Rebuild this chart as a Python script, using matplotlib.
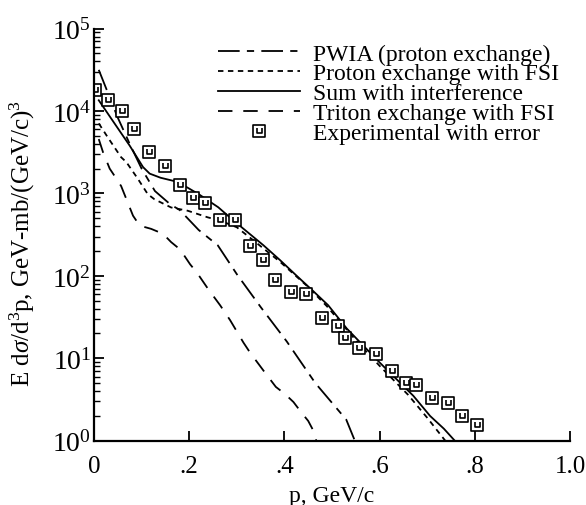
import numpy as np
import matplotlib
matplotlib.use('Agg')
import matplotlib.pyplot as plt
from matplotlib.path import Path

plt.rcParams['font.family'] = ['Liberation Serif', 'DejaVu Serif']
plt.rcParams['mathtext.fontset'] = 'custom'
plt.rcParams['mathtext.rm'] = 'Liberation Serif'
plt.rcParams['mathtext.it'] = 'Liberation Serif:italic'

# curves (p in GeV/c, cross section)
pwia_p = [0.01, 0.05, 0.075, 0.10, 0.128, 0.16, 0.18, 0.22, 0.26, 0.30, 0.35, 0.405, 0.465, 0.53, 0.548]
pwia_y = [31600, 8300, 4000, 2000, 1070, 740, 630, 360, 235, 105, 42, 16, 5.0, 1.8, 1.0]

pfsi_p = [0.01, 0.029, 0.057, 0.068, 0.092, 0.113, 0.127, 0.162, 0.197, 0.239, 0.265, 0.300,
          0.335, 0.391, 0.447, 0.489, 0.55, 0.60, 0.66, 0.70, 0.738]
pfsi_y = [7080, 4790, 2750, 2400, 1510, 980, 850, 676, 617, 513, 468, 389,
          269, 148, 76, 43, 16.6, 8.1, 3.6, 1.9, 1.0]

sum_p = [0.01, 0.075, 0.103, 0.117, 0.14, 0.176, 0.22, 0.261, 0.293, 0.356, 0.391, 0.426,
         0.461, 0.492, 0.531, 0.60, 0.671, 0.706, 0.735, 0.758]
sum_y = [13500, 3800, 2090, 1740, 1550, 1380, 980, 680, 470, 235, 155, 100,
         65, 44, 23, 8.9, 3.5, 2.0, 1.4, 1.0]

trit_p = [0.01, 0.019, 0.033, 0.040, 0.057, 0.082, 0.096, 0.120, 0.145, 0.162, 0.181, 0.202,
          0.216, 0.240, 0.265, 0.286, 0.314, 0.328, 0.356, 0.382, 0.401, 0.419, 0.436, 0.450,
          0.461, 0.467]
trit_y = [4570, 3160, 2000, 1740, 1230, 537, 407, 372, 324, 257, 209, 138,
          110, 69, 44, 29, 15.5, 11.7, 7.1, 4.5, 3.7, 2.95, 2.19, 1.74,
          1.32, 1.0]

exp_p = [0.002, 0.029, 0.059, 0.083, 0.115, 0.150, 0.180, 0.209, 0.234, 0.265, 0.296, 0.328,
         0.356, 0.381, 0.413, 0.445, 0.479, 0.513, 0.528, 0.557, 0.593, 0.626, 0.655, 0.677,
         0.711, 0.744, 0.774, 0.805]
exp_y = [18200, 13500, 10000, 6000, 3160, 2140, 1260, 890, 760, 480, 480, 230,
         158, 89, 63, 60, 31, 24.5, 17.8, 13.3, 11.2, 7.1, 5.0, 4.7,
         3.3, 2.9, 2.0, 1.55]

xtick_vals = [0, 0.2, 0.4, 0.6, 0.8, 1.0]
xtick_text = ['0', '.2', '.4', '.6', '.8', '1.0']

# open square with a small "u" (error bar) inside
verts = [(-1, -1), (1, -1), (1, 1), (-1, 1), (-1, -1),
         (-0.4, 0.55), (-0.4, -0.35), (0.4, -0.35), (0.4, 0.55)]
codes = [Path.MOVETO, Path.LINETO, Path.LINETO, Path.LINETO, Path.CLOSEPOLY,
         Path.MOVETO, Path.LINETO, Path.LINETO, Path.LINETO]
box_u = Path(verts, codes)

fig = plt.figure(figsize=(5.86, 5.06), dpi=100)
ax = fig.add_axes([0.1604, 0.127, 0.8123, 0.8145])

lw = 1.3
ax.plot(pwia_p, pwia_y, color='black', lw=lw, dashes=(12, 4, 4, 4),
        label='PWIA (proton exchange)')
ax.plot(pfsi_p, pfsi_y, color='black', lw=lw, dashes=(3, 2.5),
        label='Proton exchange with FSI')
ax.plot(sum_p, sum_y, color='black', lw=lw, label='Sum with interference')
ax.plot(trit_p, trit_y, color='black', lw=lw, dashes=(8, 6),
        label='Triton exchange with FSI')
ax.plot(exp_p, exp_y, ls='none', marker=box_u, ms=9, mfc='white', mec='black',
        mew=1.2, label='Experimental with error')

ax.set_yscale('log')
ax.set_xlim(0, 1.0)
ax.set_ylim(1, 1e5)
ax.set_xticks(xtick_vals)
ax.set_xticklabels(xtick_text)

for s in ['top', 'right']:
    ax.spines[s].set_visible(False)
for s in ['left', 'bottom']:
    ax.spines[s].set_linewidth(1.6)

ax.tick_params(axis='both', which='major', direction='in', length=7, width=1.3)
ax.tick_params(axis='x', which='major', pad=10, labelsize=18)
ax.tick_params(axis='y', which='major', pad=2, labelsize=20)
ax.tick_params(axis='y', which='minor', direction='in', length=4, width=1.0)
ax.tick_params(axis='x', which='minor', bottom=False)

ax.set_xlabel('p, GeV/c', fontsize=17, labelpad=6)
ax.set_ylabel(r'E d$\sigma$/d$^3$p, GeV-mb/(GeV/c)$^3$', fontsize=18)
ax.yaxis.set_label_coords(-0.12, 0.482)

ax.legend(loc='upper left', bbox_to_anchor=(0.2605, 0.965), frameon=False, fontsize=17,
          handlelength=3.47, handletextpad=0.55, labelspacing=-0.07, borderpad=0.0,
          borderaxespad=0.0)

fig.savefig('out.png', dpi=100)
